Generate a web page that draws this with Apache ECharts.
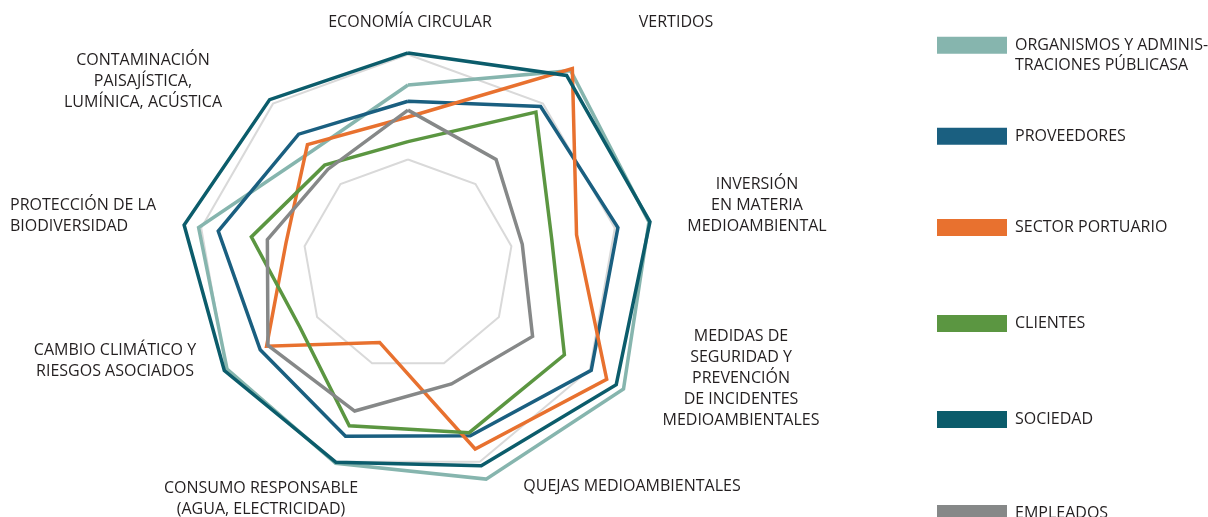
<!DOCTYPE html>
<html>
<head>
<meta charset="utf-8">
<script src="https://cdn.jsdelivr.net/npm/echarts@6/dist/echarts.min.js"></script>
<style>
  html, body { margin: 0; padding: 0; background: #ffffff; }
  #chart { width: 1208px; height: 517px; }
</style>
</head>
<body>
<div id="chart"></div>
<script>
// Environmental topics, listed clockwise from the top
const categories = [
  'ECONOMÍA CIRCULAR',
  'VERTIDOS',
  'INVERSIÓN\nEN MATERIA\nMEDIOAMBIENTAL',
  'MEDIDAS DE\nSEGURIDAD Y\nPREVENCIÓN\nDE INCIDENTES\nMEDIOAMBIENTALES',
  'QUEJAS MEDIOAMBIENTALES',
  'CONSUMO RESPONSABLE\n(AGUA, ELECTRICIDAD)',
  'CAMBIO CLIMÁTICO Y\nRIESGOS ASOCIADOS',
  'PROTECCIÓN DE LA\nBIODIVERSIDAD',
  'CONTAMINACIÓN\nPAISAJÍSTICA,\nLUMÍNICA, ACÚSTICA'
];

// Stakeholder groups (legend order)
const groups = [
  'ORGANISMOS Y ADMINISTRACIONES PÚBLICASA',
  'PROVEEDORES',
  'SECTOR PORTUARIO',
  'CLIENTES',
  'SOCIEDAD',
  'EMPLEADOS'
];
// Legend text; the leading blank line keeps the swatch level with the first text line
const groupLabels = [
  ' \nORGANISMOS Y ADMINIS-\nTRACIONES PÚBLICASA',
  'PROVEEDORES',
  'SECTOR PORTUARIO',
  'CLIENTES',
  'SOCIEDAD',
  'EMPLEADOS'
];

// Scores per topic (same order as categories)
const organismos  = [3.42, 4.82, 4.66, 4.74, 4.35, 4.03, 3.98, 4.05, 2.83];
const proveedores = [3.11, 3.93, 4.06, 4.03, 3.47, 3.48, 3.25, 3.67, 3.24];
const sector      = [2.81, 4.87, 3.26, 4.37, 3.74, 1.58, 3.11, 2.36, 2.98];
const clientes    = [2.34, 3.79, 2.78, 3.44, 3.41, 3.27, 2.38, 3.03, 2.47];
const sociedad    = [4.03, 4.70, 4.68, 4.58, 4.08, 4.01, 4.04, 4.33, 4.10];
const empleados   = [2.94, 2.61, 2.21, 2.74, 2.42, 2.97, 3.08, 2.72, 2.37];

const scaleMax = 5;
const scaleSplits = 5;
const gridRings = [2, 4];

const seriesValues = [organismos, proveedores, sector, clientes, sociedad, empleados];
const colors = ['#86b5ae', '#1a5f80', '#e8712f', '#5b9641', '#0b5c6b', '#868888'];

// Radar indicators run counter-clockwise, so reverse the clockwise list after the first
const order = [0].concat(categories.map((_, i) => i).slice(1).reverse());

const ringColors = [];
for (let i = 0; i <= scaleSplits; i++) {
  ringColors.push(gridRings.indexOf(i * scaleMax / scaleSplits) >= 0 ? '#d9d9d9' : 'rgba(0,0,0,0)');
}

const FONT = '"Open Sans", "DejaVu Sans", sans-serif';
const TEXT = '#231f20';

// Label placement for each topic (clockwise order)
const labelPos = [
  { x: 410, y: 22,    align: 'center' },
  { x: 676, y: 22,    align: 'center' },
  { x: 757, y: 205,   align: 'center' },
  { x: 741, y: 378.5, align: 'center' },
  { x: 632, y: 486,   align: 'center' },
  { x: 261, y: 499,   align: 'center' },
  { x: 115, y: 360.5, align: 'center' },
  { x: 10,  y: 215.5, align: 'left' },
  { x: 143, y: 81,    align: 'center' }
];

const legendTops = [15.2, 126.2, 217.5, 313.5, 409.5, 503.5];

const chart = echarts.init(document.getElementById('chart'), null, { renderer: 'canvas' });

const option = {
  animation: false,
  backgroundColor: '#ffffff',
  radar: {
    center: [408, 264.5],
    radius: 262.5,
    startAngle: 90,
    splitNumber: scaleSplits,
    shape: 'polygon',
    indicator: order.map(i => ({ name: categories[i], min: 0, max: scaleMax })),
    axisName: { show: false },
    axisLine: { show: false },
    axisTick: { show: false },
    axisLabel: { show: false },
    splitArea: { show: false },
    splitLine: { lineStyle: { color: ringColors, width: 2 } }
  },
  legend: groups.map((g, k) => ({
    orient: 'vertical',
    left: 937,
    top: legendTops[k],
    padding: 0,
    itemWidth: 70,
    itemHeight: 17,
    icon: 'rect',
    selectedMode: false,
    data: [g],
    formatter: name => groupLabels[groups.indexOf(name)],
    textStyle: {
      fontFamily: FONT,
      fontSize: 16,
      color: TEXT,
      lineHeight: 20,
      padding: [0, 0, 0, 3]
    }
  })),
  series: [{
    type: 'radar',
    silent: true,
    symbol: 'none',
    emphasis: { disabled: true },
    data: groups.map((g, k) => ({
      name: g,
      value: order.map(i => seriesValues[k][i]),
      itemStyle: { color: colors[k] },
      lineStyle: { color: colors[k], width: 3.5, join: 'miter', miterLimit: 10 },
      areaStyle: null
    }))
  }],
  graphic: categories.map((c, i) => ({
    type: 'text',
    x: labelPos[i].x,
    y: labelPos[i].y,
    silent: true,
    style: {
      text: c,
      fill: TEXT,
      font: '16px ' + FONT,
      lineHeight: 21,
      align: labelPos[i].align,
      verticalAlign: 'middle'
    }
  }))
};

chart.setOption(option);
</script>
</body>
</html>
